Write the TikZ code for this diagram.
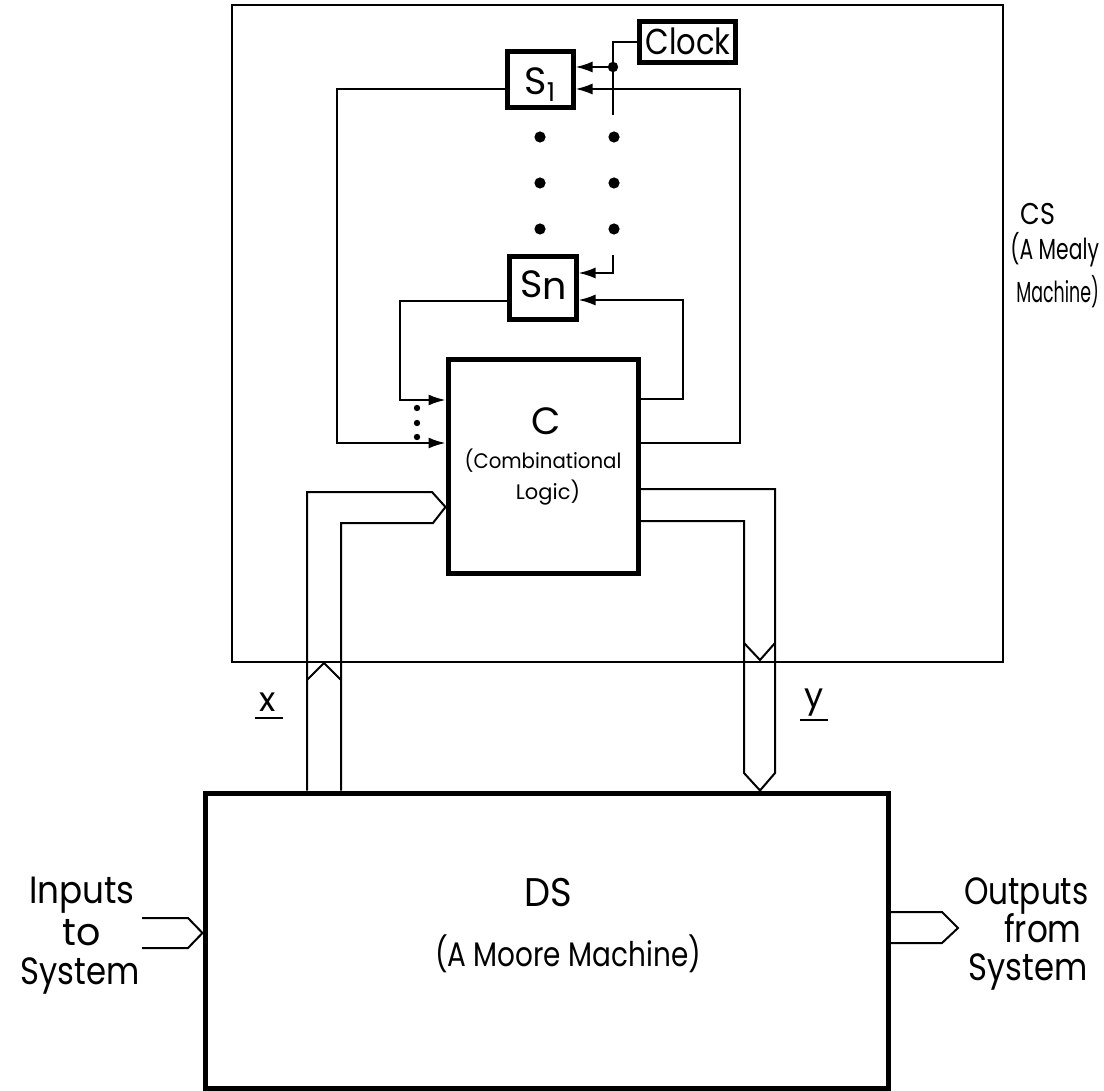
\documentclass[tikz,border=0pt]{standalone}
\usepackage{fontspec}
\usepackage{graphicx}
\setmainfont{Poppins}
\usetikzlibrary{arrows.meta}
\newcommand\myfs[1]{\fontsize{#1}{#1}\selectfont}
\newcommand\hsq[2]{\scalebox{#1}[1]{#2}}
\begin{document}
\begin{tikzpicture}[x=0.5pt,y=-0.5pt,
  conn/.style={line width=1pt},
  frame/.style={draw,line width=0.8pt,inner sep=0pt},
  box/.style={draw,line width=2.5pt,inner sep=0pt},
  arr/.style={-{Latex[length=8.5pt,width=5.5pt]}},
  lbl/.style={anchor=base,inner sep=0pt}]
\useasboundingbox (0,0) rectangle (1104,1091);
% frames and boxes
\node[frame,minimum width=385.5pt,minimum height=328.5pt] (cs) at (617.5,333.5) {};
\node[box,minimum width=48pt,minimum height=20.5pt] (clock) at (687,42.5) {};
\node[box,minimum width=33pt,minimum height=28pt] (s1) at (540,80) {};
\node[box,minimum width=33.5pt,minimum height=31.5pt] (sn) at (542.5,288.5) {};
\node[box,minimum width=95pt,minimum height=106.5pt] (c) at (543,466.5) {};
\node[box,minimum width=341.5pt,minimum height=147.5pt] (ds) at (546.5,940.5) {};
% texts
\node[lbl] (tclock) at (688,55) {\myfs{18}\hsq{0.85}{Clock}};
\node[lbl] (ts1) at (540,95) {\myfs{19}S\raisebox{-3.5pt}{\myfs{13}1}};
\node[lbl] (tsn) at (544,298) {\myfs{19}S\raisebox{-1pt}{n}};
\node[lbl] (tc) at (546,435) {\myfs{19}C};
\node[lbl] (tc2) at (543,468) {\myfs{10.5}\hsq{0.94}{(Combinational}};
\node[lbl] (tc3) at (548,500) {\myfs{10.5}Logic)};
\node[lbl] (tds) at (548,906) {\myfs{20}\hsq{0.92}{DS}};
\node[lbl] (tmoore) at (568,966) {\myfs{17}\hsq{0.82}{(A Moore Machine)}};
\node[lbl,anchor=base west] (tcs1) at (1020,225) {\myfs{15}\hsq{0.85}{CS}};
\node[lbl,anchor=base west] (tcs2) at (1010,260) {\myfs{14.5}\hsq{0.7}{(A Mealy}};
\node[lbl,anchor=base west] (tcs3) at (1016,303) {\myfs{14.5}\hsq{0.6}{Machine)}};
\node[lbl] (tin1) at (82,903) {\myfs{19}\hsq{0.9}{Inputs}};
\node[lbl] (tin2) at (82,945) {\myfs{19}to};
\node[lbl] (tin3) at (80,984) {\myfs{19}\hsq{0.85}{System}};
\node[lbl,anchor=base east] (tout1) at (1089,904) {\myfs{19}\hsq{0.82}{Outputs}};
\node[lbl,anchor=base east] (tout2) at (1082,942) {\myfs{19}\hsq{0.86}{from}};
\node[lbl,anchor=base east] (tout3) at (1088,980) {\myfs{19}\hsq{0.85}{System}};
\node[lbl] (tx) at (268,711) {\myfs{17}x};
\draw[conn] (255,718) -- (283,718);
\node[lbl] (ty) at (814,707) {\myfs{17}y};
\draw[conn] (800,720) -- (828,720);
% clock lines
\draw[conn] (clock.west) -| (613,115);
\fill (613,67) circle[radius=2.6pt];
\draw[conn,arr] (613,67) -- (s1.east |- 0,67);
\draw[conn,arr] (613,255) -- (613,273) -- (sn.east |- 0,273);
% feedback loops
\draw[conn,arr] (c.east |- 0,443) -| (740,89) -- (s1.east |- 0,89);
\draw[conn,arr] (s1.west |- 0,89) -| (337,443) -- (c.west |- 0,443);
\draw[conn,arr] (c.east |- 0,399) -| (683,300) -- (sn.east |- 0,300);
\draw[conn,arr] (sn.west |- 0,301) -| (400,400) -- (c.west |- 0,400);
% dots
\foreach \yy in {137,183,229}{
  \fill (540,\yy) circle[radius=2.8pt];
  \fill (614,\yy) circle[radius=2.8pt];}
\foreach \yy in {408,423,437}{\fill (417,\yy) circle[radius=1.6pt];}
% x bus
\draw[conn] (ds.north -| 307,0) -- (307,492) -- (432,492) -- (c.west |- 0,507) -- (433,523) -- (341,523) -- (ds.north -| 341,0);
\draw[conn] (307,680) -- (324,663) -- (341,680);
% y bus
\draw[conn] (c.east |- 0,489) -- (775,489) -- (775,773) -- (ds.north -| 760,0) -- (744,773) -- (744,521) -- (c.east |- 0,521);
\draw[conn] (744,643) -- (760,660) -- (775,643);
% system inputs and outputs
\draw[conn] (142,918) -- (188,918) -- (ds.west |- 0,933) -- (188,948) -- (142,948);
\draw[conn] (ds.east |- 0,912) -- (942,912) -- (958,928) -- (942,943) -- (ds.east |- 0,943);
\end{tikzpicture}
\end{document}
